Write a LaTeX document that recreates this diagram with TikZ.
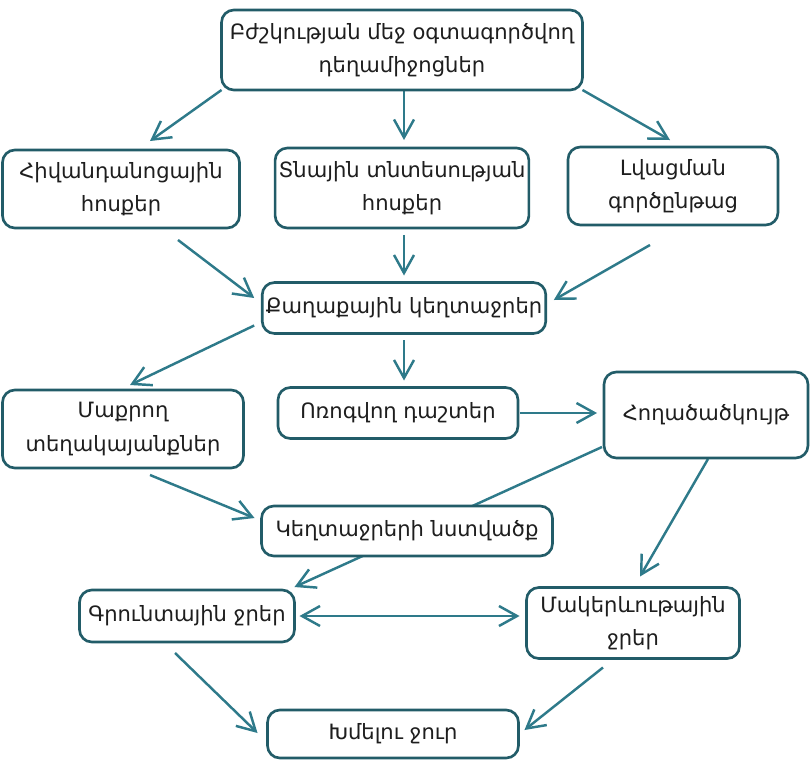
\documentclass[tikz,border=0pt]{standalone}
\usepackage{fontspec}
\setmainfont{DejaVu Sans}
\usepackage{tikz}
\usetikzlibrary{arrows.meta}
\usetikzlibrary{positioning}
\usetikzlibrary{backgrounds}

\definecolor{boxcol}{RGB}{34,92,104}
\definecolor{arrcol}{RGB}{46,122,138}
\definecolor{txtcol}{RGB}{30,30,30}

\tikzset{
  box/.style={draw=boxcol,line width=1.5pt,rounded corners=7pt,fill=white,
    align=center,inner sep=2pt,outer sep=0pt,text=txtcol,
    font=\fontsize{12}{19}\selectfont},
  every edge/.style={draw=arrcol,line width=1.4pt}
}

\begin{document}
\begin{tikzpicture}[x=0.02cm,y=-0.02cm]
\useasboundingbox (0,0) rectangle (810,767);
\node[box,minimum width=7.22cm,minimum height=1.6cm] (top) at (402,50) {Բժշկության մեջ օգտագործվող\\դեղամիջոցներ};
\node[box,minimum width=4.74cm,minimum height=1.56cm] (hiv) at (121,189) {Հիվանդանոցային\\հոսքեր};
\node[box,minimum width=4.9cm,minimum height=1.6cm] (tna) at (402,188) {Տնային տնտեսության\\հոսքեր};
\node[box,minimum width=4.2cm,minimum height=1.56cm] (lvac) at (673,186) {Լվացման\\գործընթաց};
\node[box,minimum width=5.64cm,minimum height=1.02cm] (qax) at (404,308) {Քաղաքային կեղտաջրեր};
%
\node[box,minimum width=4.82cm,minimum height=1.56cm] (maq) at (123,429) {Մաքրող\\տեղակայանքներ};
\node[box,minimum width=4.8cm,minimum height=1.02cm] (vor) at (398,413) {Ոռոգվող դաշտեր};
\node[box,minimum width=4.08cm,minimum height=1.72cm] (hox) at (706,415) {Հողածածկույթ};
\node[box,minimum width=5.82cm,minimum height=1cm] (nst) at (407,531) {Կեղտաջրերի նստվածք};
%
\node[box,minimum width=4.3cm,minimum height=1.04cm] (gru) at (187,616) {Գրունտային ջրեր};
\node[box,minimum width=4.26cm,minimum height=1.42cm] (mak) at (633,623) {Մակերևութային\\ջրեր};
\node[box,minimum width=5.02cm,minimum height=.96cm] (khm) at (393,734) {Խմելու ջուր};
%
\begin{pgfonlayer}{background}
\pgfsetarrows{-{Straight Barb[length=3.6mm,width=4mm]}}
\path (top.south west) edge ([xshift=.58cm,yshift=.18cm]hiv.north);
\path ([xshift=.04cm]top.south) edge ([xshift=.04cm,yshift=.16cm]tna.north);
\path (top.south east) edge ([xshift=-.06cm,yshift=.14cm]lvac.north);
%
\path ([xshift=1.14cm,yshift=-.24cm]hiv.south) edge ([xshift=-.16cm,yshift=.2cm]qax.west);
\path ([yshift=-.14cm]qax.north |- tna.south) edge ([yshift=.14cm]qax.north);
\path ([xshift=-.46cm,yshift=-.4cm]lvac.south) edge ([xshift=.16cm,yshift=.16cm]qax.east);
%
\path ([xshift=-.16cm,yshift=.16cm]qax.south west) edge ([xshift=.14cm,yshift=.1cm]maq.north);
\path ([yshift=-.14cm]qax.south) edge ([yshift=.14cm]qax.south |- vor.north);
\path ([xshift=.04cm]vor.east) edge ([xshift=-.14cm]vor.east -| hox.west);
%
\path ([xshift=.54cm,yshift=-.14cm]maq.south) edge ([xshift=-.14cm,yshift=.26cm]nst.west);
\path ([xshift=-.04cm,yshift=.22cm]hox.south west) edge ([yshift=.06cm]gru.north east);
\path ([xshift=.04cm,yshift=-.02cm]hox.south) edge ([xshift=.14cm,yshift=.22cm]mak.north);
%
\path ([xshift=-.24cm,yshift=-.22cm]gru.south) edge ([xshift=-.2cm,yshift=.02cm]khm.west);
\path ([xshift=-.6cm,yshift=-.18cm]mak.south) edge ([xshift=.12cm,yshift=.08cm]khm.east);
%
\pgfsetarrows{{Straight Barb[length=3.6mm,width=4mm]}-{Straight Barb[length=3.6mm,width=4mm]}}
\path ([xshift=.1cm]gru.east) edge ([xshift=-.14cm]gru.east -| mak.west);
\end{pgfonlayer}
\end{tikzpicture}
\end{document}
